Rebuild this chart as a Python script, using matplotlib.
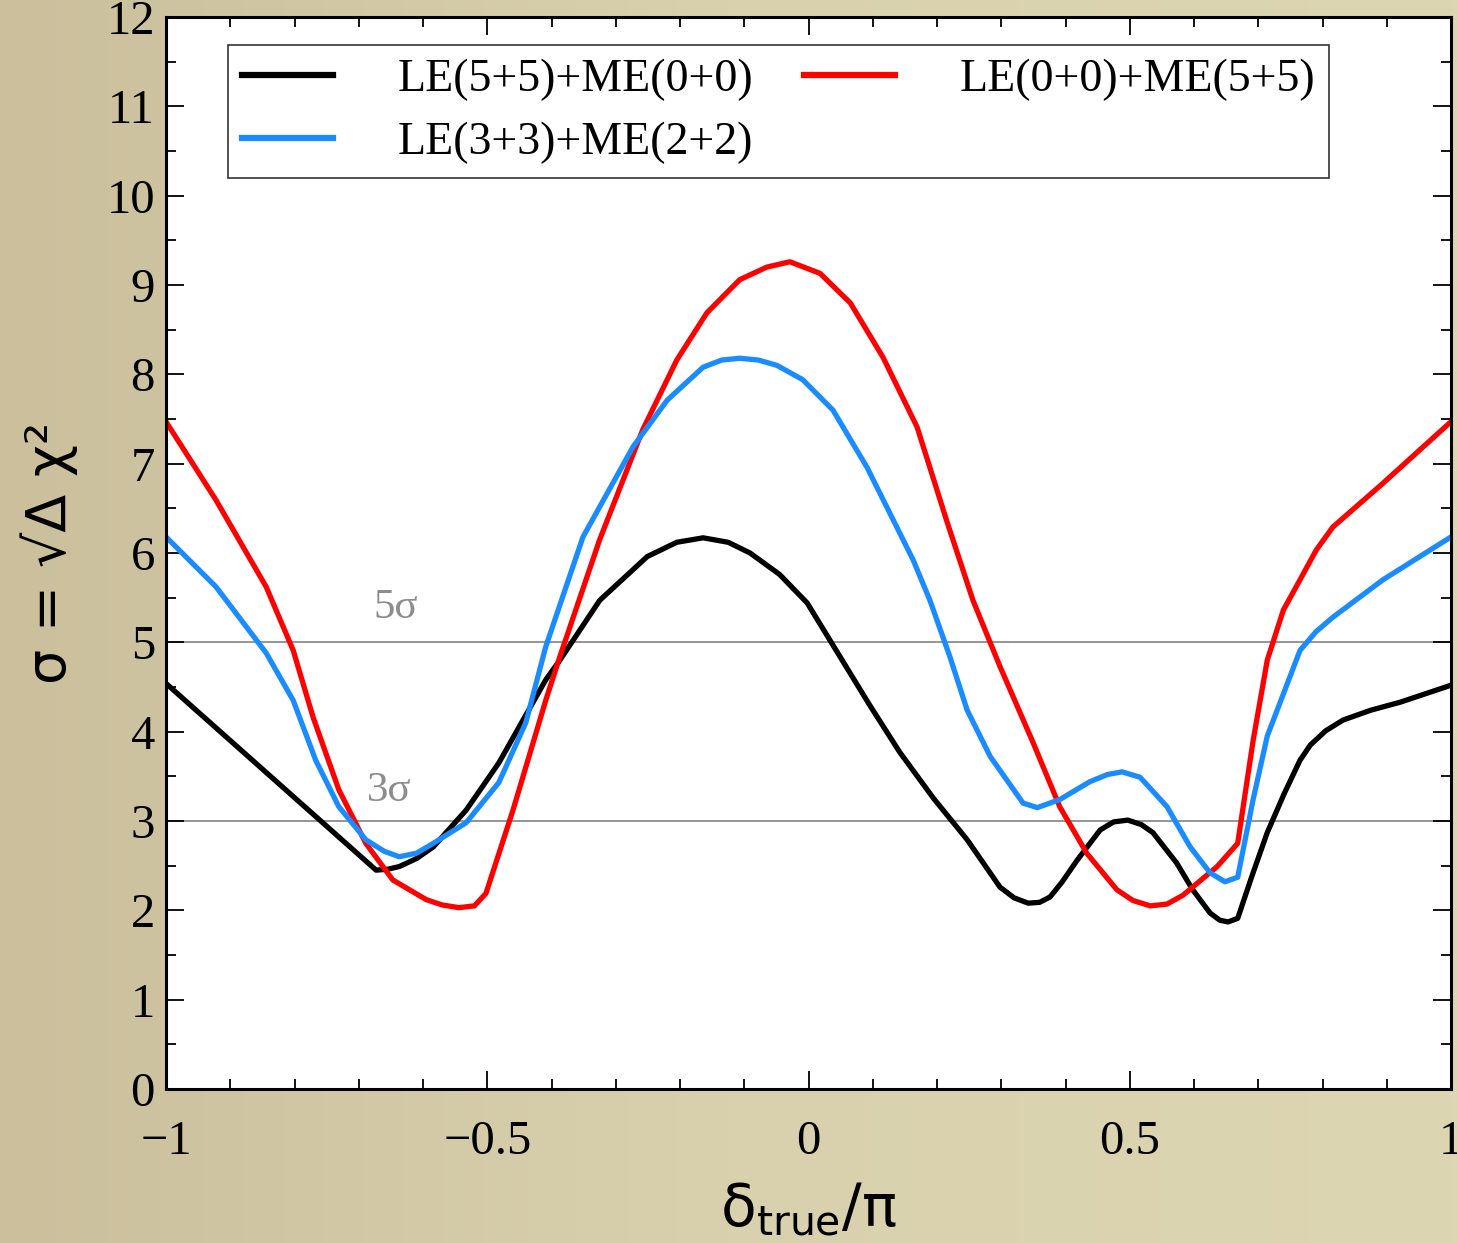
import numpy as np
import matplotlib
matplotlib.use('Agg')
import matplotlib.pyplot as plt
from matplotlib.ticker import MultipleLocator
from matplotlib.colors import LinearSegmentedColormap

# values (delta/pi, sigma)
x_black = [-1.0, -0.673, -0.655, -0.637, -0.610, -0.584, -0.533, -0.482, -0.409, -0.387, -0.325,
           -0.251, -0.205, -0.164, -0.125, -0.091, -0.045, -0.002, 0.049, 0.095, 0.142, 0.195,
           0.247, 0.298, 0.320, 0.342, 0.360, 0.376, 0.395, 0.418, 0.454, 0.475, 0.497, 0.518,
           0.536, 0.573, 0.598, 0.625, 0.640, 0.653, 0.668, 0.690, 0.714, 0.740, 0.765, 0.781,
           0.805, 0.832, 0.875, 0.921, 1.0]
y_black = [4.54, 2.45, 2.46, 2.49, 2.58, 2.71, 3.12, 3.65, 4.58, 4.80, 5.47,
           5.96, 6.12, 6.17, 6.12, 6.00, 5.76, 5.44, 4.84, 4.30, 3.77, 3.25,
           2.79, 2.26, 2.14, 2.08, 2.09, 2.15, 2.32, 2.56, 2.90, 2.99, 3.01, 2.96,
           2.87, 2.53, 2.23, 1.97, 1.89, 1.87, 1.91, 2.38, 2.87, 3.30, 3.68, 3.85,
           4.01, 4.13, 4.24, 4.33, 4.52]

x_red = [-1.0, -0.922, -0.844, -0.802, -0.771, -0.731, -0.689, -0.647, -0.595, -0.570, -0.544,
         -0.520, -0.502, -0.460, -0.409, -0.387, -0.325, -0.258, -0.205, -0.158, -0.107, -0.065,
         -0.029, 0.018, 0.065, 0.116, 0.169, 0.216, 0.256, 0.298, 0.350, 0.391, 0.433, 0.480,
         0.505, 0.532, 0.558, 0.583, 0.636, 0.668, 0.692, 0.714, 0.739, 0.765, 0.790, 0.816,
         0.894, 1.0]
y_red = [7.47, 6.59, 5.62, 4.91, 4.16, 3.35, 2.75, 2.34, 2.12, 2.06, 2.03,
         2.05, 2.19, 3.12, 4.35, 4.84, 6.15, 7.38, 8.16, 8.69, 9.06, 9.20,
         9.26, 9.13, 8.80, 8.19, 7.41, 6.34, 5.47, 4.73, 3.87, 3.16, 2.64, 2.23,
         2.11, 2.05, 2.07, 2.17, 2.49, 2.75, 3.90, 4.80, 5.36, 5.70, 6.03, 6.29,
         6.78, 7.47]

x_blue = [-1.0, -0.922, -0.844, -0.802, -0.767, -0.731, -0.689, -0.660, -0.637, -0.610, -0.584,
          -0.533, -0.482, -0.440, -0.409, -0.351, -0.273, -0.220, -0.164, -0.135, -0.107, -0.078,
          -0.049, -0.009, 0.038, 0.091, 0.163, 0.189, 0.220, 0.247, 0.283, 0.334, 0.356, 0.391,
          0.438, 0.465, 0.488, 0.516, 0.558, 0.594, 0.625, 0.648, 0.668, 0.692, 0.714, 0.765,
          0.790, 0.816, 0.894, 1.0]
y_blue = [6.18, 5.62, 4.88, 4.35, 3.68, 3.16, 2.79, 2.66, 2.60, 2.64, 2.75,
          2.98, 3.43, 4.10, 4.95, 6.18, 7.19, 7.71, 8.08, 8.16, 8.18, 8.16,
          8.10, 7.94, 7.60, 6.96, 5.92, 5.47, 4.84, 4.24, 3.72, 3.20, 3.15, 3.24,
          3.44, 3.52, 3.55, 3.49, 3.16, 2.71, 2.42, 2.32, 2.37, 3.24, 3.95, 4.91,
          5.12, 5.28, 5.70, 6.18]

labels = ['LE(5+5)+ME(0+0)', 'LE(3+3)+ME(2+2)', 'LE(0+0)+ME(5+5)']

plt.rcParams['mathtext.fontset'] = 'dejavusans'
serif = 'Liberation Serif'

fig = plt.figure(figsize=(14.57, 12.43), dpi=100)
# beige background, darker on the left
bg = fig.add_axes([0, 0, 1, 1], zorder=-10)
bg_cmap = LinearSegmentedColormap.from_list('bg', ['#cbbf9c', '#d9d1ae', '#ddd6b3'])
bg.imshow(np.linspace(0, 1, 256)[None, :], cmap=bg_cmap, aspect='auto', extent=[0, 1, 0, 1])
bg.axis('off')

ax = fig.add_axes([166 / 1457, 1 - 1089 / 1243, (1451 - 166) / 1457, (1089 - 17) / 1243])
ax.set_facecolor('white')

# sigma reference lines
ax.axhline(5, color='#8c8c8c', lw=1.3, zorder=1)
ax.axhline(3, color='#8c8c8c', lw=1.3, zorder=1)
ax.text(-0.642, 5.17, '5σ', color='#8c8c8c', fontsize=31, family=serif, ha='center', va='bottom')
ax.text(-0.653, 3.12, '3σ', color='#8c8c8c', fontsize=31, family=serif, ha='center', va='bottom')

lw = 3.8
l1, = ax.plot(x_black, y_black, color='black', lw=lw, solid_joinstyle='round')
l3, = ax.plot(x_red, y_red, color='#ff0000', lw=lw, solid_joinstyle='round')
l2, = ax.plot(x_blue, y_blue, color='#1a8cff', lw=lw, solid_joinstyle='round')

ax.set_xlim(-1, 1)
ax.set_ylim(0, 12)
ax.xaxis.set_major_locator(MultipleLocator(0.5))
ax.xaxis.set_minor_locator(MultipleLocator(0.1))
ax.yaxis.set_major_locator(MultipleLocator(1))
ax.yaxis.set_minor_locator(MultipleLocator(0.5))
ax.tick_params(which='both', direction='in', top=True, right=True, width=1.3)
ax.tick_params(which='major', length=13, labelsize=35)
ax.tick_params(axis='x', which='major', pad=22)
ax.tick_params(axis='y', which='major', pad=8)
ax.tick_params(which='minor', length=7)
for s in ax.spines.values():
    s.set_linewidth(2.2)
ax.set_xticks([-1, -0.5, 0, 0.5, 1])
ax.set_xticklabels(['\u22121', '\u22120.5', '0', '0.5', '1'], family=serif)
ax.set_yticks(range(13))
ax.set_yticklabels([str(i) for i in range(13)], family=serif)

ax.set_xlabel(r'$\mathregular{\delta_{true}/\pi}$', fontsize=42, labelpad=12)
ax.set_ylabel('σ = √Δ χ²', fontsize=40, family='DejaVu Sans', labelpad=20)

leg = ax.legend([l1, l2, l3], labels, ncol=2, loc='upper left', bbox_to_anchor=(0.0482, 0.9739),
                borderaxespad=0, prop={'family': serif, 'size': 33}, frameon=True, fancybox=False,
                edgecolor='black', handlelength=2.0, handletextpad=1.4, columnspacing=1.1,
                borderpad=0.3, labelspacing=0.45)
leg.get_frame().set_linewidth(1.2)
for h in leg.get_lines():
    h.set_linewidth(4.5)

fig.savefig('out.png', dpi=100)
